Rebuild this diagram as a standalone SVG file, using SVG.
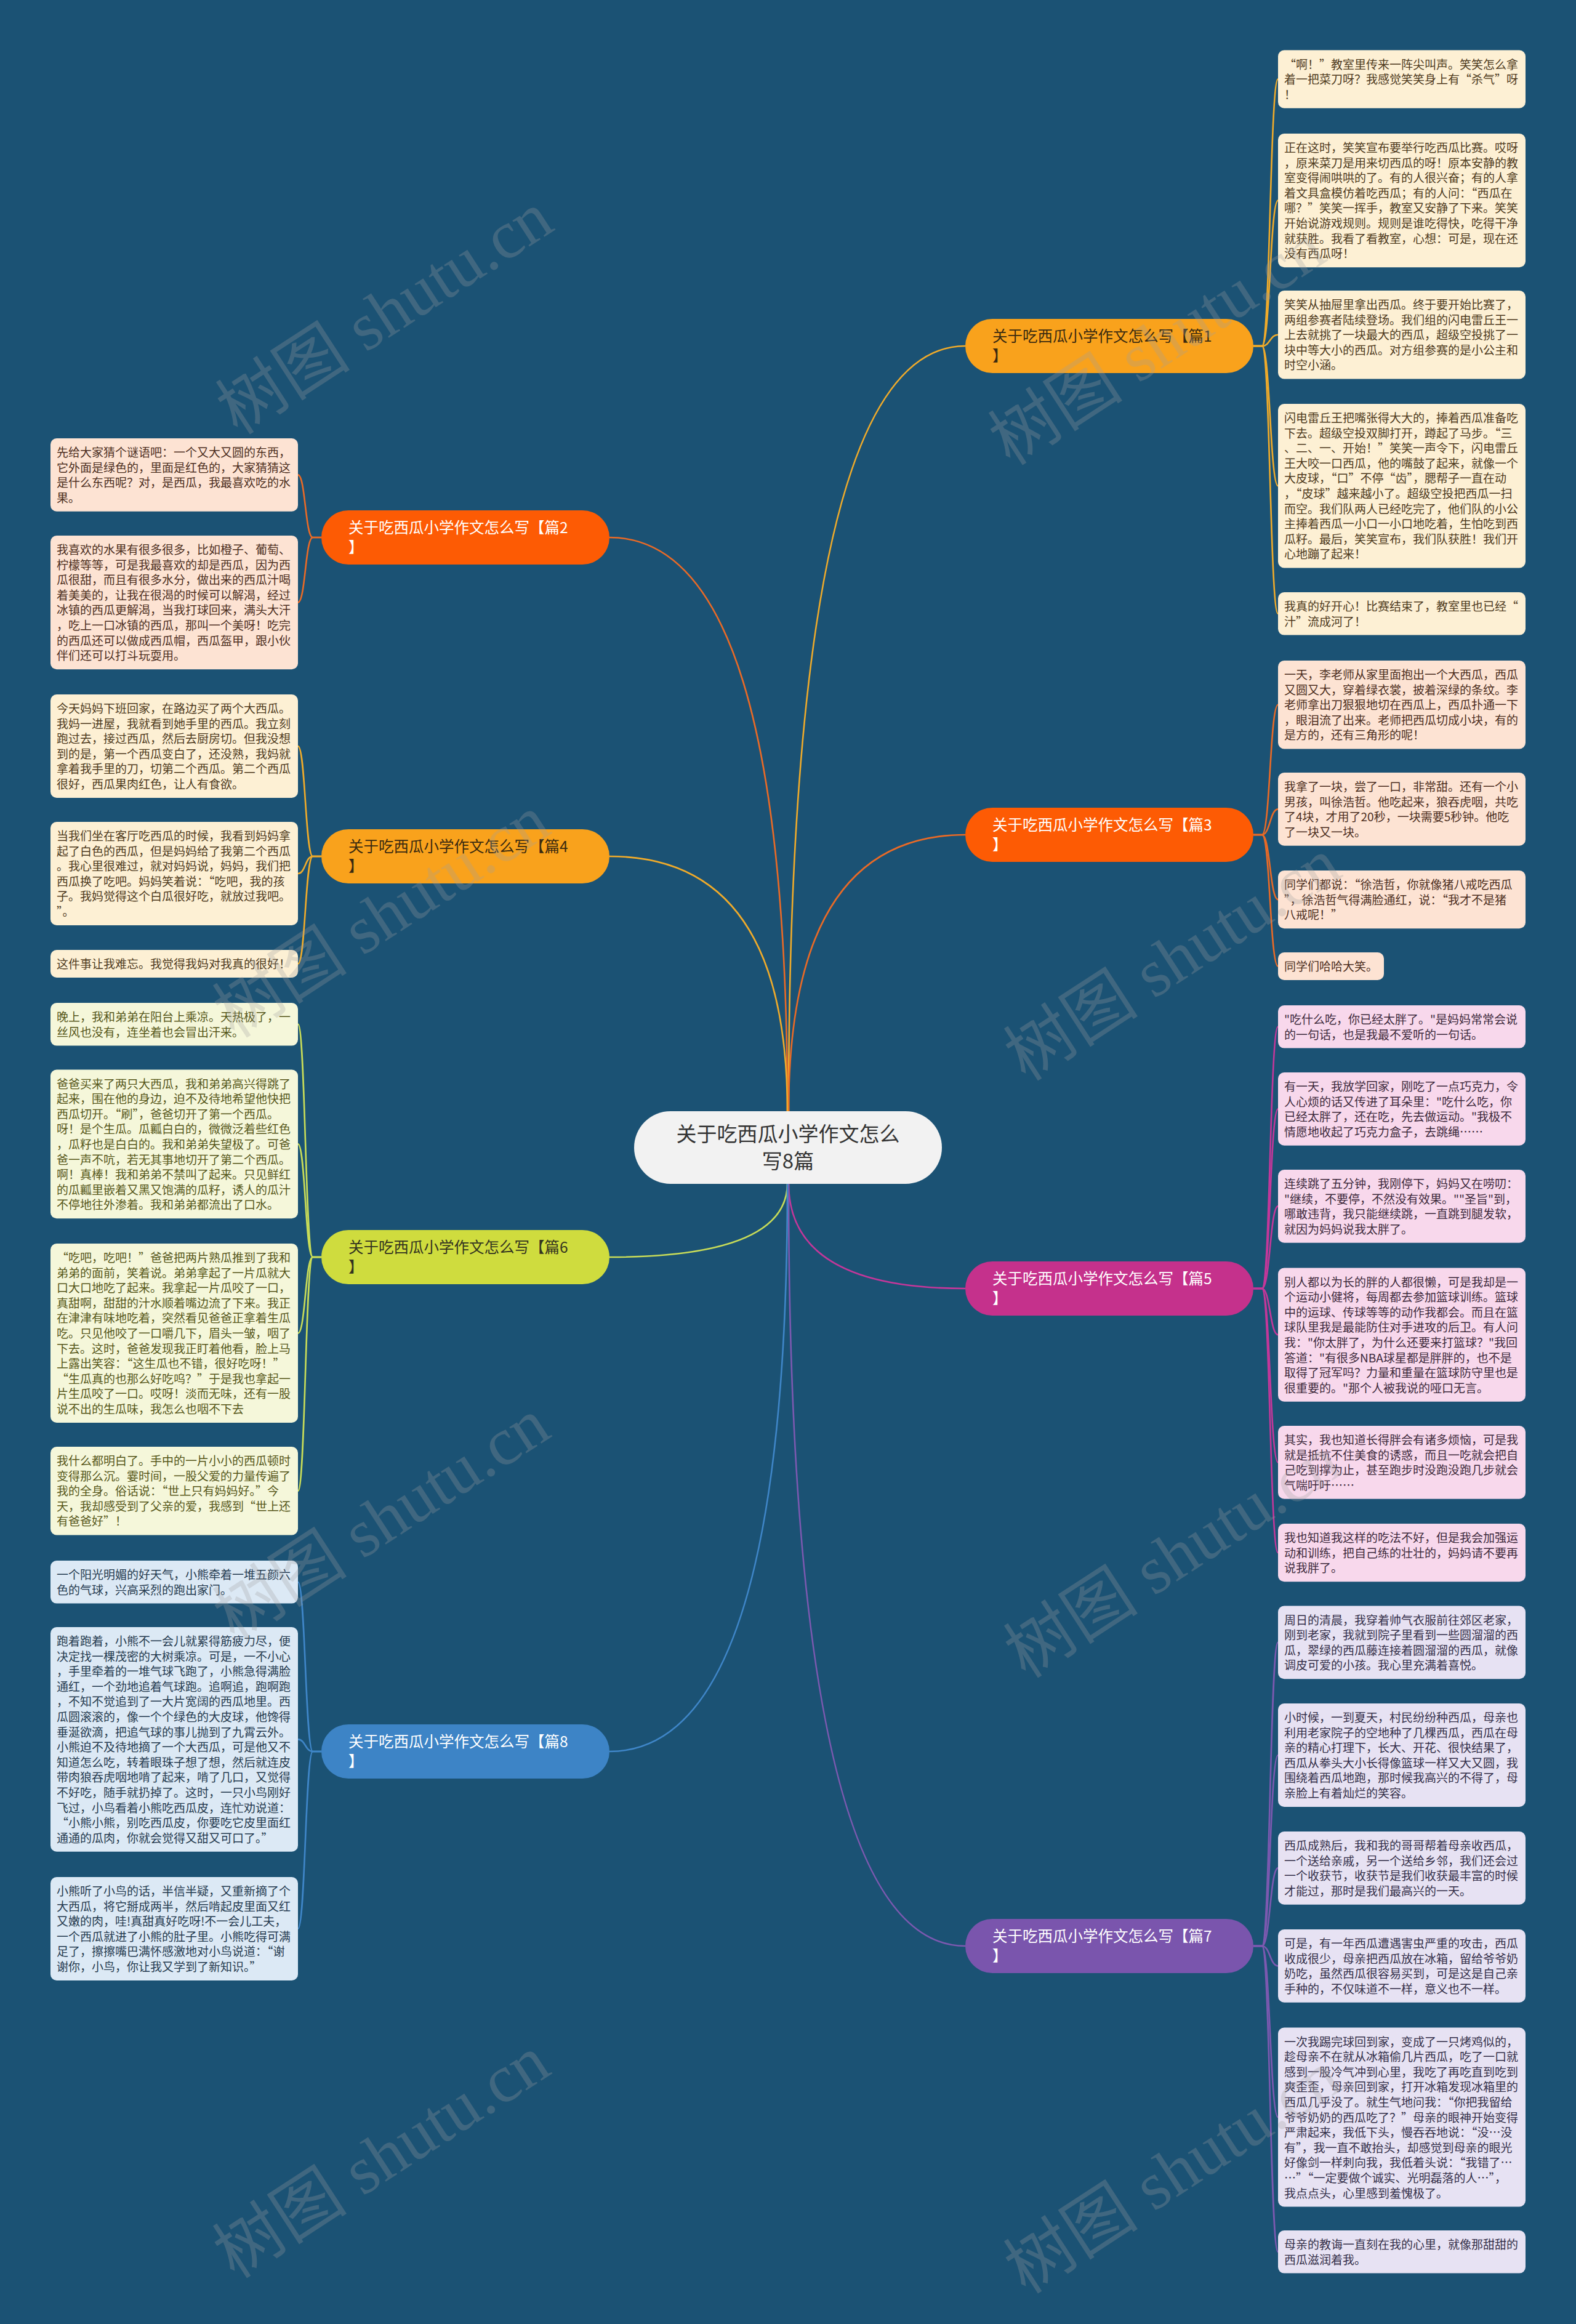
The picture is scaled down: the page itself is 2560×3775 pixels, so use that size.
<svg xmlns="http://www.w3.org/2000/svg" width="2560" height="3775" viewBox="0 0 2560 3775">
<style>
.lt{font-family:"Noto Sans CJK SC","Noto Sans",sans-serif;font-size:19px}
.bt{font-family:"Noto Sans CJK SC","Noto Sans",sans-serif;font-size:24.5px}
.ct{font-family:"Noto Sans CJK SC","Noto Sans",sans-serif;font-size:33px;fill:#333333}
.wm{font-family:"Liberation Serif","Noto Sans CJK SC",serif;font-size:110px;fill:#a0a0a0;opacity:0.28}
.cn path{fill:none;stroke-width:2.6}
.k1{stroke:#f0ab2a}.k2{stroke:#ea6a26}.k3{stroke:#c4379a}.k4{stroke:#7c59b0}.k5{stroke:#c8dc58}.k6{stroke:#3f86c8}
.fA{fill:#fdf0d4}.tA{fill:#4f3b1e}
.fP{fill:#fde3d3}.tP{fill:#4d2f1f}
.fK{fill:#f8d8ec}.tK{fill:#3e2a3c}
.fL{fill:#e7e2f3}.tL{fill:#35304a}
.fG{fill:#f5f7da}.tG{fill:#57571a}
.fB{fill:#dce9f5}.tB{fill:#263b50}
</style>
<rect x="0" y="0" width="2560" height="3775" fill="#1b5274"/>

<g id="connectors" class="cn">
<path class="k1" d="M1281 1806 Q1281 562 1568 562"/>
<path class="k2" d="M1281 1806 Q1281 1356 1568 1356"/>
<path class="k2" d="M1279 1806 Q1279 873 990 873"/>
<path class="k1" d="M1279 1806 Q1279 1391 990 1391"/>
<path class="k3" d="M1281 1922 Q1281 2093 1568 2093"/>
<path class="k4" d="M1281 1922 Q1281 3161 1568 3161"/>
<path class="k5" d="M1279 1922 Q1279 2042 990 2042"/>
<path class="k6" d="M1279 1922 Q1279 2845 990 2845"/>

<path class="k1" d="M2036 562 H2050 C2063 562 2063 128.6 2076 128.6"/>
<path class="k1" d="M2036 562 H2050 C2063 562 2063 325.6 2076 325.6"/>
<path class="k1" d="M2036 562 H2050 C2063 562 2063 543.7 2076 543.7"/>
<path class="k1" d="M2036 562 H2050 C2063 562 2063 789.2 2076 789.2"/>
<path class="k1" d="M2036 562 H2050 C2063 562 2063 996.8 2076 996.8"/>

<path class="k2" d="M2036 1356 H2050 C2063 1356 2063 1144.7 2076 1144.7"/>
<path class="k2" d="M2036 1356 H2050 C2063 1356 2063 1314.4 2076 1314.4"/>
<path class="k2" d="M2036 1356 H2050 C2063 1356 2063 1461.1 2076 1461.1"/>
<path class="k2" d="M2036 1356 H2050 C2063 1356 2063 1569.5 2076 1569.5"/>

<path class="k3" d="M2036 2093 H2050 C2063 2093 2063 1667.8 2076 1667.8"/>
<path class="k3" d="M2036 2093 H2050 C2063 2093 2063 1801.4 2076 1801.4"/>
<path class="k3" d="M2036 2093 H2050 C2063 2093 2063 1959.4 2076 1959.4"/>
<path class="k3" d="M2036 2093 H2050 C2063 2093 2063 2168.1 2076 2168.1"/>
<path class="k3" d="M2036 2093 H2050 C2063 2093 2063 2375.4 2076 2375.4"/>
<path class="k3" d="M2036 2093 H2050 C2063 2093 2063 2522.1 2076 2522.1"/>

<path class="k4" d="M2036 3161 H2050 C2063 3161 2063 2667.9 2076 2667.9"/>
<path class="k4" d="M2036 3161 H2050 C2063 3161 2063 2851 2076 2851"/>
<path class="k4" d="M2036 3161 H2050 C2063 3161 2063 3034.4 2076 3034.4"/>
<path class="k4" d="M2036 3161 H2050 C2063 3161 2063 3193.4 2076 3193.4"/>
<path class="k4" d="M2036 3161 H2050 C2063 3161 2063 3439 2076 3439"/>
<path class="k4" d="M2036 3161 H2050 C2063 3161 2063 3657.8 2076 3657.8"/>

<path class="k2" d="M522 873 H508 C496 873 496 771.4 484 771.4"/>
<path class="k2" d="M522 873 H508 C496 873 496 978.6 484 978.6"/>

<path class="k1" d="M522 1391 H508 C496 1391 496 1212 484 1212"/>
<path class="k1" d="M522 1391 H508 C496 1391 496 1419 484 1419"/>
<path class="k1" d="M522 1391 H508 C496 1391 496 1565.5 484 1565.5"/>

<path class="k5" d="M522 2042 H508 C496 2042 496 1663.8 484 1663.8"/>
<path class="k5" d="M522 2042 H508 C496 2042 496 1858.4 484 1858.4"/>
<path class="k5" d="M522 2042 H508 C496 2042 496 2165.5 484 2165.5"/>
<path class="k5" d="M522 2042 H508 C496 2042 496 2421.7 484 2421.7"/>

<path class="k6" d="M522 2845 H508 C496 2845 496 2569.8 484 2569.8"/>
<path class="k6" d="M522 2845 H508 C496 2845 496 2825.4 484 2825.4"/>
<path class="k6" d="M522 2845 H508 C496 2845 496 3133 484 3133"/>
</g>

<g id="center">
<rect x="1030" y="1805" width="500" height="118" rx="59" fill="#f2f2f2"/>
<text class="ct" text-anchor="middle"><tspan x="1280" y="1853.5">关于吃西瓜小学作文怎么</tspan><tspan x="1280" y="1897.5">写8篇</tspan></text>
</g>

<g id="branch1">
<rect x="1568" y="518" width="468" height="88" rx="44" fill="#f9a21c"/>
<text class="bt" fill="#3a2a10"><tspan x="1612" y="555">关于吃西瓜小学作文怎么写【篇1</tspan><tspan x="1612" y="587">】</tspan></text>
</g>
<g id="branch3">
<rect x="1568" y="1312" width="468" height="88" rx="44" fill="#fd5b04"/>
<text class="bt" fill="#ffffff"><tspan x="1612" y="1349">关于吃西瓜小学作文怎么写【篇3</tspan><tspan x="1612" y="1381">】</tspan></text>
</g>
<g id="branch5">
<rect x="1568" y="2049" width="468" height="88" rx="44" fill="#c5318c"/>
<text class="bt" fill="#ffffff"><tspan x="1612" y="2086">关于吃西瓜小学作文怎么写【篇5</tspan><tspan x="1612" y="2118">】</tspan></text>
</g>
<g id="branch7">
<rect x="1568" y="3117" width="468" height="88" rx="44" fill="#7a55ad"/>
<text class="bt" fill="#ffffff"><tspan x="1612" y="3154">关于吃西瓜小学作文怎么写【篇7</tspan><tspan x="1612" y="3186">】</tspan></text>
</g>
<g id="branch2">
<rect x="522" y="829" width="468" height="88" rx="44" fill="#fd5b04"/>
<text class="bt" fill="#ffffff"><tspan x="566" y="866">关于吃西瓜小学作文怎么写【篇2</tspan><tspan x="566" y="898">】</tspan></text>
</g>
<g id="branch4">
<rect x="522" y="1347" width="468" height="88" rx="44" fill="#f9a21c"/>
<text class="bt" fill="#3a2a10"><tspan x="566" y="1384">关于吃西瓜小学作文怎么写【篇4</tspan><tspan x="566" y="1416">】</tspan></text>
</g>
<g id="branch6">
<rect x="522" y="1998" width="468" height="88" rx="44" fill="#cfdc3e"/>
<text class="bt" fill="#333320"><tspan x="566" y="2035">关于吃西瓜小学作文怎么写【篇6</tspan><tspan x="566" y="2067">】</tspan></text>
</g>
<g id="branch8">
<rect x="522" y="2801" width="468" height="88" rx="44" fill="#3d84c6"/>
<text class="bt" fill="#ffffff"><tspan x="566" y="2838">关于吃西瓜小学作文怎么写【篇8</tspan><tspan x="566" y="2870">】</tspan></text>
</g>

<g id="leaf-r1-1"><rect class="fA" x="2076" y="81.5" width="402" height="94.2" rx="10"/>
<text class="lt tA"><tspan x="2086" y="111.5">“啊！”教室里传来一阵尖叫声。笑笑怎么拿</tspan><tspan x="2086" dy="24.6">着一把菜刀呀？我感觉笑笑身上有“杀气”呀</tspan><tspan x="2086" dy="24.6">！</tspan></text></g>
<g id="leaf-r1-2"><rect class="fA" x="2076" y="217" width="402" height="217.2" rx="10"/>
<text class="lt tA"><tspan x="2086" y="247">正在这时，笑笑宣布要举行吃西瓜比赛。哎呀</tspan><tspan x="2086" dy="24.6">，原来菜刀是用来切西瓜的呀！原本安静的教</tspan><tspan x="2086" dy="24.6">室变得闹哄哄的了。有的人很兴奋；有的人拿</tspan><tspan x="2086" dy="24.6">着文具盒模仿着吃西瓜；有的人问：“西瓜在</tspan><tspan x="2086" dy="24.6">哪？”笑笑一挥手，教室又安静了下来。笑笑</tspan><tspan x="2086" dy="24.6">开始说游戏规则。规则是谁吃得快，吃得干净</tspan><tspan x="2086" dy="24.6">就获胜。我看了看教室，心想：可是，现在还</tspan><tspan x="2086" dy="24.6">没有西瓜呀！</tspan></text></g>
<g id="leaf-r1-3"><rect class="fA" x="2076" y="472" width="402" height="143.4" rx="10"/>
<text class="lt tA"><tspan x="2086" y="502">笑笑从抽屉里拿出西瓜。终于要开始比赛了，</tspan><tspan x="2086" dy="24.6">两组参赛者陆续登场。我们组的闪电雷丘王一</tspan><tspan x="2086" dy="24.6">上去就挑了一块最大的西瓜，超级空投挑了一</tspan><tspan x="2086" dy="24.6">块中等大小的西瓜。对方组参赛的是小公主和</tspan><tspan x="2086" dy="24.6">时空小涵。</tspan></text></g>
<g id="leaf-r1-4"><rect class="fA" x="2076" y="656" width="402" height="266.4" rx="10"/>
<text class="lt tA"><tspan x="2086" y="686">闪电雷丘王把嘴张得大大的，捧着西瓜准备吃</tspan><tspan x="2086" dy="24.6">下去。超级空投双脚打开，蹲起了马步。“三</tspan><tspan x="2086" dy="24.6">、二、一、开始！”笑笑一声令下，闪电雷丘</tspan><tspan x="2086" dy="24.6">王大咬一口西瓜，他的嘴鼓了起来，就像一个</tspan><tspan x="2086" dy="24.6">大皮球，“口”不停“齿”，腮帮子一直在动</tspan><tspan x="2086" dy="24.6">，“皮球”越来越小了。超级空投把西瓜一扫</tspan><tspan x="2086" dy="24.6">而空。我们队两人已经吃完了，他们队的小公</tspan><tspan x="2086" dy="24.6">主捧着西瓜一小口一小口地吃着，生怕吃到西</tspan><tspan x="2086" dy="24.6">瓜籽。最后，笑笑宣布，我们队获胜！我们开</tspan><tspan x="2086" dy="24.6">心地蹦了起来！</tspan></text></g>
<g id="leaf-r1-5"><rect class="fA" x="2076" y="962" width="402" height="69.6" rx="10"/>
<text class="lt tA"><tspan x="2086" y="992">我真的好开心！比赛结束了，教室里也已经“</tspan><tspan x="2086" dy="24.6">汁”流成河了！</tspan></text></g>

<g id="leaf-r3-1"><rect class="fP" x="2076" y="1073" width="402" height="143.4" rx="10"/>
<text class="lt tP"><tspan x="2086" y="1103">一天，李老师从家里面抱出一个大西瓜，西瓜</tspan><tspan x="2086" dy="24.6">又圆又大，穿着绿衣裳，披着深绿的条纹。李</tspan><tspan x="2086" dy="24.6">老师拿出刀狠狠地切在西瓜上，西瓜扑通一下</tspan><tspan x="2086" dy="24.6">，眼泪流了出来。老师把西瓜切成小块，有的</tspan><tspan x="2086" dy="24.6">是方的，还有三角形的呢！</tspan></text></g>
<g id="leaf-r3-2"><rect class="fP" x="2076" y="1255" width="402" height="118.8" rx="10"/>
<text class="lt tP"><tspan x="2086" y="1285">我拿了一块，尝了一口，非常甜。还有一个小</tspan><tspan x="2086" dy="24.6">男孩，叫徐浩哲。他吃起来，狼吞虎咽，共吃</tspan><tspan x="2086" dy="24.6">了4块，才用了20秒，一块需要5秒钟。他吃</tspan><tspan x="2086" dy="24.6">了一块又一块。</tspan></text></g>
<g id="leaf-r3-3"><rect class="fP" x="2076" y="1414" width="402" height="94.2" rx="10"/>
<text class="lt tP"><tspan x="2086" y="1444">同学们都说：“徐浩哲，你就像猪八戒吃西瓜</tspan><tspan x="2086" dy="24.6">”，徐浩哲气得满脸通红，说：“我才不是猪</tspan><tspan x="2086" dy="24.6">八戒呢！”</tspan></text></g>
<g id="leaf-r3-4"><rect class="fP" x="2076" y="1547" width="172" height="45" rx="10"/>
<text class="lt tP"><tspan x="2086" y="1577">同学们哈哈大笑。</tspan></text></g>

<g id="leaf-r5-1"><rect class="fK" x="2076" y="1633" width="402" height="69.6" rx="10"/>
<text class="lt tK"><tspan x="2086" y="1663">"吃什么吃，你已经太胖了。"是妈妈常常会说</tspan><tspan x="2086" dy="24.6">的一句话，也是我最不爱听的一句话。</tspan></text></g>
<g id="leaf-r5-2"><rect class="fK" x="2076" y="1742" width="402" height="118.8" rx="10"/>
<text class="lt tK"><tspan x="2086" y="1772">有一天，我放学回家，刚吃了一点巧克力，令</tspan><tspan x="2086" dy="24.6">人心烦的话又传进了耳朵里："吃什么吃，你</tspan><tspan x="2086" dy="24.6">已经太胖了，还在吃，先去做运动。"我极不</tspan><tspan x="2086" dy="24.6">情愿地收起了巧克力盒子，去跳绳……</tspan></text></g>
<g id="leaf-r5-3"><rect class="fK" x="2076" y="1900" width="402" height="118.8" rx="10"/>
<text class="lt tK"><tspan x="2086" y="1930">连续跳了五分钟，我刚停下，妈妈又在唠叨：</tspan><tspan x="2086" dy="24.6">"继续，不要停，不然没有效果。""圣旨"到，</tspan><tspan x="2086" dy="24.6">哪敢违背，我只能继续跳，一直跳到腿发软，</tspan><tspan x="2086" dy="24.6">就因为妈妈说我太胖了。</tspan></text></g>
<g id="leaf-r5-4"><rect class="fK" x="2076" y="2059.5" width="402" height="217.2" rx="10"/>
<text class="lt tK"><tspan x="2086" y="2089.5">别人都以为长的胖的人都很懒，可是我却是一</tspan><tspan x="2086" dy="24.6">个运动小健将，每周都去参加篮球训练。篮球</tspan><tspan x="2086" dy="24.6">中的运球、传球等等的动作我都会。而且在篮</tspan><tspan x="2086" dy="24.6">球队里我是最能防住对手进攻的后卫。有人问</tspan><tspan x="2086" dy="24.6">我："你太胖了，为什么还要来打篮球？"我回</tspan><tspan x="2086" dy="24.6">答道："有很多NBA球星都是胖胖的，也不是</tspan><tspan x="2086" dy="24.6">取得了冠军吗？力量和重量在篮球防守里也是</tspan><tspan x="2086" dy="24.6">很重要的。"那个人被我说的哑口无言。</tspan></text></g>
<g id="leaf-r5-5"><rect class="fK" x="2076" y="2316" width="402" height="118.8" rx="10"/>
<text class="lt tK"><tspan x="2086" y="2346">其实，我也知道长得胖会有诸多烦恼，可是我</tspan><tspan x="2086" dy="24.6">就是抵抗不住美食的诱惑，而且一吃就会把自</tspan><tspan x="2086" dy="24.6">己吃到撑为止，甚至跑步时没跑没跑几步就会</tspan><tspan x="2086" dy="24.6">气喘吁吁……</tspan></text></g>
<g id="leaf-r5-6"><rect class="fK" x="2076" y="2475" width="402" height="94.2" rx="10"/>
<text class="lt tK"><tspan x="2086" y="2505">我也知道我这样的吃法不好，但是我会加强运</tspan><tspan x="2086" dy="24.6">动和训练，把自己练的壮壮的，妈妈请不要再</tspan><tspan x="2086" dy="24.6">说我胖了。</tspan></text></g>

<g id="leaf-r7-1"><rect class="fL" x="2076" y="2608.5" width="402" height="118.8" rx="10"/>
<text class="lt tL"><tspan x="2086" y="2638.5">周日的清晨，我穿着帅气衣服前往郊区老家，</tspan><tspan x="2086" dy="24.6">刚到老家，我就到院子里看到一些圆溜溜的西</tspan><tspan x="2086" dy="24.6">瓜，翠绿的西瓜藤连接着圆溜溜的西瓜，就像</tspan><tspan x="2086" dy="24.6">调皮可爱的小孩。我心里充满着喜悦。</tspan></text></g>
<g id="leaf-r7-2"><rect class="fL" x="2076" y="2767" width="402" height="168" rx="10"/>
<text class="lt tL"><tspan x="2086" y="2797">小时候，一到夏天，村民纷纷种西瓜，母亲也</tspan><tspan x="2086" dy="24.6">利用老家院子的空地种了几棵西瓜，西瓜在母</tspan><tspan x="2086" dy="24.6">亲的精心打理下，长大、开花、很快结果了，</tspan><tspan x="2086" dy="24.6">西瓜从拳头大小长得像篮球一样又大又圆，我</tspan><tspan x="2086" dy="24.6">围绕着西瓜地跑，那时候我高兴的不得了，母</tspan><tspan x="2086" dy="24.6">亲脸上有着灿烂的笑容。</tspan></text></g>
<g id="leaf-r7-3"><rect class="fL" x="2076" y="2975" width="402" height="118.8" rx="10"/>
<text class="lt tL"><tspan x="2086" y="3005">西瓜成熟后，我和我的哥哥帮着母亲收西瓜，</tspan><tspan x="2086" dy="24.6">一个送给亲戚，另一个送给乡邻，我们还会过</tspan><tspan x="2086" dy="24.6">一个收获节，收获节是我们收获最丰富的时候</tspan><tspan x="2086" dy="24.6">才能过，那时是我们最高兴的一天。</tspan></text></g>
<g id="leaf-r7-4"><rect class="fL" x="2076" y="3134" width="402" height="118.8" rx="10"/>
<text class="lt tL"><tspan x="2086" y="3164">可是，有一年西瓜遭遇害虫严重的攻击，西瓜</tspan><tspan x="2086" dy="24.6">收成很少，母亲把西瓜放在冰箱，留给爷爷奶</tspan><tspan x="2086" dy="24.6">奶吃，虽然西瓜很容易买到，可是这是自己亲</tspan><tspan x="2086" dy="24.6">手种的，不仅味道不一样，意义也不一样。</tspan></text></g>
<g id="leaf-r7-5"><rect class="fL" x="2076" y="3293.5" width="402" height="291" rx="10"/>
<text class="lt tL"><tspan x="2086" y="3323.5">一次我踢完球回到家，变成了一只烤鸡似的，</tspan><tspan x="2086" dy="24.6">趁母亲不在就从冰箱偷几片西瓜，吃了一口就</tspan><tspan x="2086" dy="24.6">感到一股冷气冲到心里，我吃了再吃直到吃到</tspan><tspan x="2086" dy="24.6">爽歪歪，母亲回到家，打开冰箱发现冰箱里的</tspan><tspan x="2086" dy="24.6">西瓜几乎没了。就生气地问我：“你把我留给</tspan><tspan x="2086" dy="24.6">爷爷奶奶的西瓜吃了？”母亲的眼神开始变得</tspan><tspan x="2086" dy="24.6">严肃起来，我低下头，慢吞吞地说：“没…没</tspan><tspan x="2086" dy="24.6">有”，我一直不敢抬头，却感觉到母亲的眼光</tspan><tspan x="2086" dy="24.6">好像剑一样刺向我，我低着头说：“我错了…</tspan><tspan x="2086" dy="24.6">…”“一定要做个诚实、光明磊落的人…”，</tspan><tspan x="2086" dy="24.6">我点点头，心里感到羞愧极了。</tspan></text></g>
<g id="leaf-r7-6"><rect class="fL" x="2076" y="3623" width="402" height="69.6" rx="10"/>
<text class="lt tL"><tspan x="2086" y="3653">母亲的教诲一直刻在我的心里，就像那甜甜的</tspan><tspan x="2086" dy="24.6">西瓜滋润着我。</tspan></text></g>

<g id="leaf-l2-1"><rect class="fP" x="82" y="712" width="402" height="118.8" rx="10"/>
<text class="lt tP"><tspan x="92" y="742">先给大家猜个谜语吧：一个又大又圆的东西，</tspan><tspan x="92" dy="24.6">它外面是绿色的，里面是红色的，大家猜猜这</tspan><tspan x="92" dy="24.6">是什么东西呢？对，是西瓜，我最喜欢吃的水</tspan><tspan x="92" dy="24.6">果。</tspan></text></g>
<g id="leaf-l2-2"><rect class="fP" x="82" y="870" width="402" height="217.2" rx="10"/>
<text class="lt tP"><tspan x="92" y="900">我喜欢的水果有很多很多，比如橙子、葡萄、</tspan><tspan x="92" dy="24.6">柠檬等等，可是我最喜欢的却是西瓜，因为西</tspan><tspan x="92" dy="24.6">瓜很甜，而且有很多水分，做出来的西瓜汁喝</tspan><tspan x="92" dy="24.6">着美美的，让我在很渴的时候可以解渴，经过</tspan><tspan x="92" dy="24.6">冰镇的西瓜更解渴，当我打球回来，满头大汗</tspan><tspan x="92" dy="24.6">，吃上一口冰镇的西瓜，那叫一个美呀！吃完</tspan><tspan x="92" dy="24.6">的西瓜还可以做成西瓜帽，西瓜盔甲，跟小伙</tspan><tspan x="92" dy="24.6">伴们还可以打斗玩耍用。</tspan></text></g>

<g id="leaf-l4-1"><rect class="fA" x="82" y="1128" width="402" height="168" rx="10"/>
<text class="lt tA"><tspan x="92" y="1158">今天妈妈下班回家，在路边买了两个大西瓜。</tspan><tspan x="92" dy="24.6">我妈一进屋，我就看到她手里的西瓜。我立刻</tspan><tspan x="92" dy="24.6">跑过去，接过西瓜，然后去厨房切。但我没想</tspan><tspan x="92" dy="24.6">到的是，第一个西瓜变白了，还没熟，我妈就</tspan><tspan x="92" dy="24.6">拿着我手里的刀，切第二个西瓜。第二个西瓜</tspan><tspan x="92" dy="24.6">很好，西瓜果肉红色，让人有食欲。</tspan></text></g>
<g id="leaf-l4-2"><rect class="fA" x="82" y="1335" width="402" height="168" rx="10"/>
<text class="lt tA"><tspan x="92" y="1365">当我们坐在客厅吃西瓜的时候，我看到妈妈拿</tspan><tspan x="92" dy="24.6">起了白色的西瓜，但是妈妈给了我第二个西瓜</tspan><tspan x="92" dy="24.6">。我心里很难过，就对妈妈说，妈妈，我们把</tspan><tspan x="92" dy="24.6">西瓜换了吃吧。妈妈笑着说：“吃吧，我的孩</tspan><tspan x="92" dy="24.6">子。我妈觉得这个白瓜很好吃，就放过我吧。</tspan><tspan x="92" dy="24.6">”。</tspan></text></g>
<g id="leaf-l4-3"><rect class="fA" x="82" y="1543" width="402" height="45" rx="10"/>
<text class="lt tA"><tspan x="92" y="1573">这件事让我难忘。我觉得我妈对我真的很好！</tspan></text></g>

<g id="leaf-l6-1"><rect class="fG" x="82" y="1629" width="402" height="69.6" rx="10"/>
<text class="lt tG"><tspan x="92" y="1659">晚上，我和弟弟在阳台上乘凉。天热极了，一</tspan><tspan x="92" dy="24.6">丝风也没有，连坐着也会冒出汗来。</tspan></text></g>
<g id="leaf-l6-2"><rect class="fG" x="82" y="1737.5" width="402" height="241.8" rx="10"/>
<text class="lt tG"><tspan x="92" y="1767.5">爸爸买来了两只大西瓜，我和弟弟高兴得跳了</tspan><tspan x="92" dy="24.6">起来，围在他的身边，迫不及待地希望他快把</tspan><tspan x="92" dy="24.6">西瓜切开。“刷”，爸爸切开了第一个西瓜。</tspan><tspan x="92" dy="24.6">呀！是个生瓜。瓜瓤白白的，微微泛着些红色</tspan><tspan x="92" dy="24.6">，瓜籽也是白白的。我和弟弟失望极了。可爸</tspan><tspan x="92" dy="24.6">爸一声不吭，若无其事地切开了第二个西瓜。</tspan><tspan x="92" dy="24.6">啊！真棒！我和弟弟不禁叫了起来。只见鲜红</tspan><tspan x="92" dy="24.6">的瓜瓤里嵌着又黑又饱满的瓜籽，诱人的瓜汁</tspan><tspan x="92" dy="24.6">不停地往外渗着。我和弟弟都流出了口水。</tspan></text></g>
<g id="leaf-l6-3"><rect class="fG" x="82" y="2020" width="402" height="291" rx="10"/>
<text class="lt tG"><tspan x="92" y="2050">“吃吧，吃吧！”爸爸把两片熟瓜推到了我和</tspan><tspan x="92" dy="24.6">弟弟的面前，笑着说。弟弟拿起了一片瓜就大</tspan><tspan x="92" dy="24.6">口大口地吃了起来。我拿起一片瓜咬了一口，</tspan><tspan x="92" dy="24.6">真甜啊，甜甜的汁水顺着嘴边流了下来。我正</tspan><tspan x="92" dy="24.6">在津津有味地吃着，突然看见爸爸正拿着生瓜</tspan><tspan x="92" dy="24.6">吃。只见他咬了一口嚼几下，眉头一皱，咽了</tspan><tspan x="92" dy="24.6">下去。这时，爸爸发现我正盯着他看，脸上马</tspan><tspan x="92" dy="24.6">上露出笑容：“这生瓜也不错，很好吃呀！”</tspan><tspan x="92" dy="24.6">“生瓜真的也那么好吃呜？”于是我也拿起一</tspan><tspan x="92" dy="24.6">片生瓜咬了一口。哎呀！淡而无味，还有一股</tspan><tspan x="92" dy="24.6">说不出的生瓜味，我怎么也咽不下去</tspan></text></g>
<g id="leaf-l6-4"><rect class="fG" x="82" y="2350" width="402" height="143.4" rx="10"/>
<text class="lt tG"><tspan x="92" y="2380">我什么都明白了。手中的一片小小的西瓜顿时</tspan><tspan x="92" dy="24.6">变得那么沉。霎时间，一股父爱的力量传遍了</tspan><tspan x="92" dy="24.6">我的全身。俗话说：“世上只有妈妈好。”今</tspan><tspan x="92" dy="24.6">天，我却感受到了父亲的爱，我感到“世上还</tspan><tspan x="92" dy="24.6">有爸爸好”！</tspan></text></g>

<g id="leaf-l8-1"><rect class="fB" x="82" y="2535" width="402" height="69.6" rx="10"/>
<text class="lt tB"><tspan x="92" y="2565">一个阳光明媚的好天气，小熊牵着一堆五颜六</tspan><tspan x="92" dy="24.6">色的气球，兴高采烈的跑出家门。</tspan></text></g>
<g id="leaf-l8-2"><rect class="fB" x="82" y="2643" width="402" height="364.8" rx="10"/>
<text class="lt tB"><tspan x="92" y="2673">跑着跑着，小熊不一会儿就累得筋疲力尽，便</tspan><tspan x="92" dy="24.6">决定找一棵茂密的大树乘凉。可是，一不小心</tspan><tspan x="92" dy="24.6">，手里牵着的一堆气球飞跑了，小熊急得满脸</tspan><tspan x="92" dy="24.6">通红，一个劲地追着气球跑。追啊追，跑啊跑</tspan><tspan x="92" dy="24.6">，不知不觉追到了一大片宽阔的西瓜地里。西</tspan><tspan x="92" dy="24.6">瓜圆滚滚的，像一个个绿色的大皮球，他馋得</tspan><tspan x="92" dy="24.6">垂涎欲滴，把追气球的事儿抛到了九霄云外。</tspan><tspan x="92" dy="24.6">小熊迫不及待地摘了一个大西瓜，可是他又不</tspan><tspan x="92" dy="24.6">知道怎么吃，转着眼珠子想了想，然后就连皮</tspan><tspan x="92" dy="24.6">带肉狼吞虎咽地啃了起来，啃了几口，又觉得</tspan><tspan x="92" dy="24.6">不好吃，随手就扔掉了。这时，一只小鸟刚好</tspan><tspan x="92" dy="24.6">飞过，小鸟看着小熊吃西瓜皮，连忙劝说道：</tspan><tspan x="92" dy="24.6">“小熊小熊，别吃西瓜皮，你要吃它皮里面红</tspan><tspan x="92" dy="24.6">通通的瓜肉，你就会觉得又甜又可口了。”</tspan></text></g>
<g id="leaf-l8-3"><rect class="fB" x="82" y="3049" width="402" height="168" rx="10"/>
<text class="lt tB"><tspan x="92" y="3079">小熊听了小鸟的话，半信半疑，又重新摘了个</tspan><tspan x="92" dy="24.6">大西瓜，将它掰成两半，然后啃起皮里面又红</tspan><tspan x="92" dy="24.6">又嫩的肉，哇!真甜真好吃呀!不一会儿工夫，</tspan><tspan x="92" dy="24.6">一个西瓜就进了小熊的肚子里。小熊吃得可满</tspan><tspan x="92" dy="24.6">足了，擦擦嘴巴满怀感激地对小鸟说道：“谢</tspan><tspan x="92" dy="24.6">谢你，小鸟，你让我又学到了新知识。”</tspan></text></g>

<g id="watermarks">
<text class="wm" text-anchor="middle" transform="translate(645 540) rotate(-33)">树图 shutu.cn</text>
<text class="wm" text-anchor="middle" transform="translate(1900 590) rotate(-33)">树图 shutu.cn</text>
<text class="wm" text-anchor="middle" transform="translate(640 1520) rotate(-33)">树图 shutu.cn</text>
<text class="wm" text-anchor="middle" transform="translate(1925 1590) rotate(-33)">树图 shutu.cn</text>
<text class="wm" text-anchor="middle" transform="translate(640 2500) rotate(-33)">树图 shutu.cn</text>
<text class="wm" text-anchor="middle" transform="translate(1925 2560) rotate(-33)">树图 shutu.cn</text>
<text class="wm" text-anchor="middle" transform="translate(640 3535) rotate(-33)">树图 shutu.cn</text>
<text class="wm" text-anchor="middle" transform="translate(1925 3560) rotate(-33)">树图 shutu.cn</text>
</g>
</svg>
